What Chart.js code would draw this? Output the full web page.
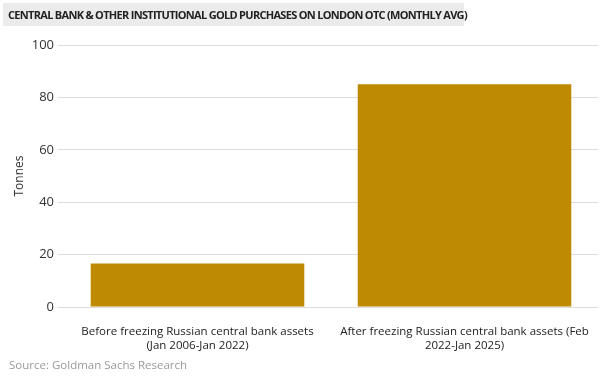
<!DOCTYPE html>
<html>
<head>
<meta charset="utf-8">
<script src="https://cdn.jsdelivr.net/npm/chart.js@4"></script>
<style>
  html, body { margin: 0; padding: 0; background: #fff; }
  #wrap { position: relative; width: 601px; height: 376px; overflow: hidden; }
  #title {
    position: absolute; left: 3px; top: 3px; width: 461px; height: 23px;
    background: #ebebeb; color: #222;
    font: bold 11px "Open Sans", sans-serif; letter-spacing: -0.7px; line-height: 23px;
    padding-left: 5px; box-sizing: border-box; white-space: nowrap;
  }
  #source {
    position: absolute; left: 9px; top: 357px;
    color: #9a9a9a; font: 11.5px "Open Sans", sans-serif; white-space: nowrap;
  }
  canvas { position: absolute; left: 0; top: 0; }
</style>
</head>
<body>
<div id="wrap">
  <canvas id="goldChart" width="601" height="376"></canvas>
  <div id="title">CENTRAL BANK &amp; OTHER INSTITUTIONAL GOLD PURCHASES ON LONDON OTC (MONTHLY AVG)</div>
  <div id="source">Source: Goldman Sachs Research</div>
</div>
<script>
const categories = [
    ['Before freezing Russian central bank assets', '(Jan 2006-Jan 2022)'],
    ['After freezing Russian central bank assets (Feb', '2022-Jan 2025)']
];
const tonnes = [16.6, 85];
const yTicks = [0, 20, 40, 60, 80, 100];

const ctx = document.getElementById('goldChart').getContext('2d');

const chart = new Chart(ctx, {
    type: 'bar',
    data: {
        labels: categories,
        datasets: [{
            label: 'Tonnes',
            data: tonnes,
            backgroundColor: '#BD8A02',
            categoryPercentage: 0.8,
            barPercentage: 1.0
        }]
    },
    options: {
        responsive: false,
        animation: false,
        layout: { padding: { top: 45, right: 3, left: 0, bottom: 0 } },
        plugins: {
            legend: { display: false },
            tooltip: { enabled: false }
        },
        scales: {
            x: {
                grid: { display: false },
                border: { display: false },
                ticks: {
                    color: '#222',
                    padding: 10,
                    font: { family: 'Open Sans', size: 11.5 },
                    maxRotation: 0,
                    autoSkip: false
                },
                afterFit: function (scale) {
                    scale.height = 69;
                    scale.paddingLeft = 0;
                    scale.paddingRight = 0;
                }
            },
            y: {
                min: 0,
                max: 100,
                afterBuildTicks: function (scale) {
                    scale.ticks = yTicks.map(v => ({ value: v }));
                },
                grid: { color: '#dcdcdc', tickLength: 6, lineWidth: 1 },
                border: { display: false },
                ticks: {
                    color: '#333',
                    padding: 4,
                    font: { family: 'Open Sans', size: 13 }
                },
                title: {
                    display: true,
                    text: 'Tonnes',
                    color: '#333',
                    font: { family: 'Open Sans', size: 12 },
                    padding: { top: 12, bottom: 0 }
                },
                afterFit: function (scale) { scale.width = 64; }
            }
        }
    }
});
</script>
</body>
</html>
